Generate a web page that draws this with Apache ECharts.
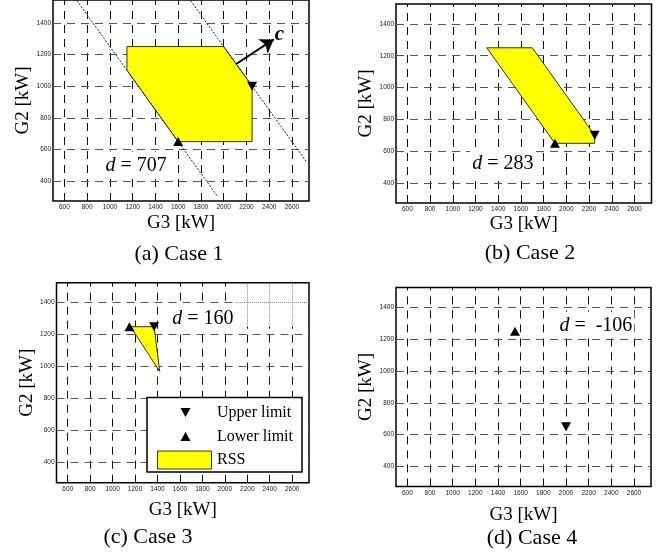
<!DOCTYPE html>
<html>
<head>
<meta charset="utf-8">
<title>RSS cases</title>
<script src="https://cdn.jsdelivr.net/npm/echarts@6/dist/echarts.min.js"></script>
<style>
	html, body { margin: 0; padding: 0; background: #fff; }
	#chart { width: 667px; height: 555px; }
</style>
</head>
<body>
<div id="chart"></div>
<script>
// tick labels
const xTicks = [600, 800, 1000, 1200, 1400, 1600, 1800, 2000, 2200, 2400, 2600];
const yTicks = [400, 600, 800, 1000, 1200, 1400];

// case 1
const rss1 = [[1150, 1250], [2000, 1250], [2250, 1000], [2250, 650], [1600, 650], [1150, 1100]];
const upper1 = [[2250, 1000]];
const lower1 = [[1600, 650]];
const boundLow1 = [[710, 1540], [1950, 300]];
const boundHigh1 = [[1710, 1540], [2725, 525]];
const vectorC = [[2110, 1140], [2440, 1295]];

// case 2
const rss2 = [[1300, 1250], [1700, 1250], [2250, 700], [2250, 650], [1900, 650]];
const upper2 = [[2250, 700]];
const lower2 = [[1900, 650]];

// case 3
const rss3 = [[1160, 1250], [1370, 1250], [1420, 970]];
const upper3 = [[1370, 1250]];
const lower3 = [[1150, 1250]];

// case 4 (no RSS)
const upper4 = [[2000, 650]];
const lower4 = [[1550, 1250]];

const dValues = ["707", "283", "160", "-106"];
const captions = ["(a) Case 1", "(b) Case 2", "(c) Case 3", "(d) Case 4"];

const serif = '"Liberation Serif", "Times New Roman", serif';
const sans = '"Liberation Sans", Arial, sans-serif';

const X_MIN = 500, X_MAX = 2750, Y_MIN = 275;

const panels = [
	{ left: 53, top: -2, width: 256, height: 203, yMax: 1544, gapX: 13, gapY: 20, dAt: [940, 505], cap: [179, 254] },
	{ left: 396, top: 4, width: 255.5, height: 199, yMax: 1525, gapX: 11.5, gapY: 20, dAt: [1150, 525], cap: [530, 253] },
	{ left: 56.5, top: 282.7, width: 252.5, height: 200, yMax: 1525, gapX: 18, gapY: 13, dAt: [1510, 1305], cap: [148, 537] },
	{ left: 396, top: 287.4, width: 255, height: 199, yMax: 1525, gapX: 19, gapY: 20, dAt: [1920, 1290], cap: [532, 538] },
];

const dashStyle = (color) => ({ color: color, width: 1, type: [8, 6], opacity: 1 });
const dotStyle = { color: "#888", width: 1, type: [1, 1], opacity: 1 };

function segs(i, list, style) {
	return {
		type: "lines",
		coordinateSystem: "cartesian2d",
		xAxisIndex: i,
		yAxisIndex: i,
		polyline: false,
		silent: true,
		z: 1,
		lineStyle: style,
		data: list.map((c) => ({ coords: c })),
	};
}

function gridSeries(i) {
	const yMax = panels[i].yMax;
	const out = [];
	let vx = xTicks, hy = yTicks;
	if (i === 2) {
		// top-right corner of case 3 has a dotted grid
		const dotX = [2200, 2400, 2600];
		vx = xTicks.filter((x) => dotX.indexOf(x) < 0);
		hy = yTicks.filter((y) => y !== 1400);
		out.push(segs(i, dotX.map((x) => [[x, Y_MIN], [x, 1250]]), dashStyle("#111")));
		out.push(segs(i, dotX.map((x) => [[x, 1250], [x, yMax]]), dotStyle));
		out.push(segs(i, [[[X_MIN, 1400], [2100, 1400]]], dashStyle("#555")));
		out.push(segs(i, [[[2100, 1400], [X_MAX, 1400]]], dotStyle));
	}
	out.push(segs(i, vx.map((x) => [[x, Y_MIN], [x, yMax]]), dashStyle("#111")));
	out.push(segs(i, hy.map((y) => [[X_MIN, y], [X_MAX, y]]), dashStyle("#555")));
	return out;
}

function rssSeries(i, verts) {
	return {
		type: "custom",
		xAxisIndex: i,
		yAxisIndex: i,
		silent: true,
		z: 3,
		data: verts,
		renderItem: (params, api) => {
			if (params.dataIndex !== 0) return null;
			return {
				type: "polygon",
				shape: { points: verts.map((p) => api.coord(p)) },
				style: { fill: "#ffff00", stroke: "#333", lineWidth: 1 },
			};
		},
	};
}

function markerSeries(i, data, down) {
	return {
		type: "scatter",
		xAxisIndex: i,
		yAxisIndex: i,
		silent: true,
		z: 6,
		symbol: "triangle",
		symbolSize: [10, 9],
		symbolRotate: down ? 180 : 0,
		itemStyle: { color: "#000", opacity: 1 },
		data: data,
	};
}

function dLabel(i) {
	return {
		type: "scatter",
		xAxisIndex: i,
		yAxisIndex: i,
		silent: true,
		z: 8,
		symbolSize: 1,
		itemStyle: { color: "transparent", opacity: 1 },
		data: [panels[i].dAt],
		label: {
			show: true,
			position: "right",
			distance: 0,
			formatter: i === 3 ? "{i|d} =  " + dValues[i] : "{i|d} = " + dValues[i],
			fontFamily: serif,
			fontSize: 20,
			color: "#000",
			backgroundColor: "#fff",
			padding: [4, 2, 2, 2],
			rich: { i: { fontFamily: serif, fontSize: 20, fontStyle: "italic", color: "#000" } },
		},
	};
}

const chart = echarts.init(document.getElementById("chart"), null, { renderer: "canvas" });

const series = [];
panels.forEach((p, i) => { series.push(...gridSeries(i)); });

series.push(rssSeries(0, rss1), rssSeries(1, rss2), rssSeries(2, rss3));

// d boundaries of case 1
[boundLow1, boundHigh1].forEach((b) => {
	series.push({
		type: "line",
		xAxisIndex: 0,
		yAxisIndex: 0,
		silent: true,
		z: 4,
		showSymbol: false,
		symbol: "none",
		lineStyle: { color: "#222", width: 1, type: [2, 1.5] },
		data: b,
	});
});

// vector c
series.push({
	type: "lines",
	coordinateSystem: "cartesian2d",
	xAxisIndex: 0,
	yAxisIndex: 0,
	silent: true,
	z: 5,
	symbol: ["none", "arrow"],
	symbolSize: 13,
	lineStyle: { color: "#000", width: 2, opacity: 1 },
	data: [{ coords: vectorC }],
});
series.push({
	type: "scatter",
	xAxisIndex: 0,
	yAxisIndex: 0,
	silent: true,
	z: 8,
	symbolSize: 1,
	itemStyle: { color: "transparent", opacity: 1 },
	data: [[2490, 1325]],
	label: {
		show: true,
		position: "inside",
		formatter: "c",
		fontFamily: serif,
		fontSize: 21,
		fontStyle: "italic",
		fontWeight: "bold",
		color: "#000",
	},
});

series.push(
	markerSeries(0, upper1, true), markerSeries(0, lower1, false),
	markerSeries(1, upper2, true), markerSeries(1, lower2, false),
	markerSeries(2, upper3, true), markerSeries(2, lower3, false),
	markerSeries(3, upper4, true), markerSeries(3, lower4, false)
);
panels.forEach((p, i) => series.push(dLabel(i)));

const graphic = captions.map((t, i) => ({
	type: "text",
	x: panels[i].cap[0],
	y: panels[i].cap[1],
	z: 10,
	style: { text: t, font: "22px " + serif, fill: "#000", textAlign: "center", textVerticalAlign: "middle" },
}));

// legend box (case 3)
graphic.push(
	{ type: "rect", z: 20, shape: { x: 147, y: 397.5, width: 155, height: 74.5 }, style: { fill: "#fff", stroke: "#000", lineWidth: 1.5 } },
	{ type: "polygon", z: 21, shape: { points: [[180.5, 408], [190.5, 408], [185.5, 417]] }, style: { fill: "#000" } },
	{ type: "polygon", z: 21, shape: { points: [[180.5, 441], [190.5, 441], [185.5, 432]] }, style: { fill: "#000" } },
	{ type: "rect", z: 21, shape: { x: 157.5, y: 451, width: 54, height: 18 }, style: { fill: "#ffff00", stroke: "#333", lineWidth: 1 } },
	{ type: "text", z: 21, x: 217, y: 412.5, style: { text: "Upper limit", font: "16px " + serif, fill: "#000", textVerticalAlign: "middle" } },
	{ type: "text", z: 21, x: 217, y: 436.5, style: { text: "Lower limit", font: "16px " + serif, fill: "#000", textVerticalAlign: "middle" } },
	{ type: "text", z: 21, x: 217, y: 460, style: { text: "RSS", font: "16px " + serif, fill: "#000", textVerticalAlign: "middle" } }
);

chart.setOption({
	animation: false,
	backgroundColor: "#fff",
	grid: panels.map((p) => ({
		left: p.left,
		top: p.top,
		width: p.width,
		height: p.height,
		show: true,
		borderColor: "#000",
		borderWidth: 1.5,
		backgroundColor: "transparent",
	})),
	xAxis: panels.map((p, i) => ({
		type: "value",
		gridIndex: i,
		min: X_MIN,
		max: X_MAX,
		name: "G3 [kW]",
		nameLocation: "middle",
		nameGap: p.gapX,
		nameTextStyle: { fontFamily: serif, fontSize: 19, color: "#000" },
		axisLine: { show: false },
		axisTick: { show: true, inside: true, length: 3, customValues: xTicks, lineStyle: { color: "#000" } },
		axisLabel: { customValues: xTicks, formatter: (v) => String(v), fontFamily: sans, fontSize: 6.5, color: "#222", margin: 3 },
		splitLine: { show: false },
	})),
	yAxis: panels.map((p, i) => ({
		type: "value",
		gridIndex: i,
		min: Y_MIN,
		max: p.yMax,
		name: "G2 [kW]",
		nameLocation: "middle",
		nameGap: p.gapY,
		nameTextStyle: { fontFamily: serif, fontSize: 19, color: "#000" },
		axisLine: { show: false },
		axisTick: { show: true, inside: true, length: 3, customValues: yTicks, lineStyle: { color: "#000" } },
		axisLabel: { customValues: yTicks, formatter: (v) => String(v), fontFamily: sans, fontSize: 6.5, color: "#222", margin: 2 },
		splitLine: { show: false },
	})),
	series: series,
	graphic: graphic,
});
</script>
</body>
</html>
